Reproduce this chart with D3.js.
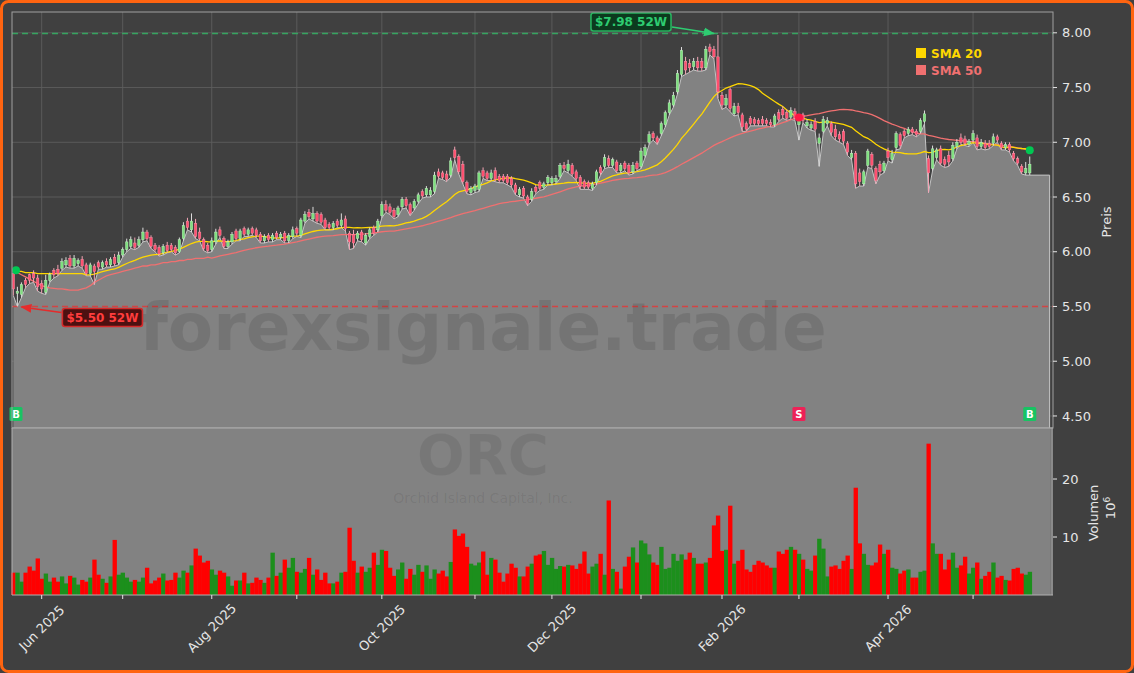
<!DOCTYPE html>
<html><head><meta charset="utf-8">
<script src="https://cdn.jsdelivr.net/npm/d3@7"></script>
<style>html,body{margin:0;padding:0;background:#404040;}svg{display:block;}</style>
</head><body>
<svg id="chart" width="1134" height="673"></svg>
<script>
// ---------------- DATA ----------------
const ticker = "ORC";
const companyName = "Orchid Island Capital, Inc.";
const watermark = "forexsignale.trade";
const startDate = "2025-05-21";
const endDate = "2026-05-21";
const holidays = ["2025-05-26","2025-06-19","2025-07-04","2025-09-01","2025-11-27","2025-12-25","2026-01-01","2026-01-19","2026-02-16","2026-04-03"];

const opens = [5.80,5.62,5.61,5.74,5.79,5.80,5.76,5.71,5.63,5.74,
5.83,5.84,5.85,5.88,5.94,5.87,5.89,5.93,5.88,5.80,
5.87,5.90,5.86,5.91,5.88,5.95,5.90,5.97,6.02,6.05,
6.08,6.06,6.11,6.18,6.13,6.06,6.04,5.99,6.06,6.06,
6.04,6.00,6.12,6.28,6.20,6.26,6.18,6.11,6.06,6.02,
6.09,6.20,6.12,6.05,6.09,6.19,6.12,6.21,6.16,6.21,
6.20,6.16,6.10,6.15,6.11,6.17,6.13,6.17,6.10,6.14,
6.21,6.15,6.28,6.36,6.30,6.35,6.34,6.29,6.25,6.22,
6.28,6.24,6.30,6.17,6.16,6.12,6.18,6.08,6.14,6.22,
6.20,6.33,6.43,6.41,6.38,6.34,6.41,6.48,6.43,6.40,
6.46,6.55,6.52,6.52,6.55,6.73,6.72,6.71,6.70,6.93,
6.87,6.80,6.63,6.54,6.56,6.57,6.74,6.72,6.67,6.74,
6.69,6.69,6.69,6.67,6.61,6.52,6.58,6.50,6.48,6.59,
6.63,6.59,6.63,6.63,6.64,6.69,6.79,6.74,6.79,6.73,
6.68,6.64,6.63,6.58,6.63,6.77,6.78,6.85,6.79,6.82,
6.74,6.81,6.79,6.73,6.81,6.78,6.88,7.00,7.08,7.04,
7.08,7.16,7.27,7.34,7.46,7.62,7.74,7.72,7.69,7.74,
7.74,7.68,7.87,7.85,7.78,7.43,7.34,7.48,7.26,7.33,
7.25,7.17,7.22,7.21,7.20,7.21,7.20,7.18,7.16,7.27,
7.30,7.27,7.23,7.28,7.16,7.25,7.15,7.13,7.19,6.99,
7.10,7.17,7.17,7.12,7.07,7.10,6.99,6.86,6.90,6.72,
6.62,6.79,6.89,6.76,6.80,6.74,6.92,6.84,6.95,7.07,
7.10,7.08,7.12,7.10,7.10,7.19,6.85,6.76,6.86,6.94,
6.84,6.88,6.85,6.96,7.04,7.03,6.98,7.02,7.04,6.96,
6.99,6.99,6.99,7.05,6.99,6.95,6.98,6.90,6.85,6.78,
6.72,6.72];

const highs = [5.84,5.68,5.72,5.76,5.80,5.83,5.79,5.74,5.79,5.81,
5.85,5.88,5.94,5.95,5.97,5.97,5.94,5.96,5.90,5.90,
5.89,5.92,5.92,5.94,5.95,5.98,6.00,6.04,6.12,6.14,
6.13,6.14,6.22,6.20,6.15,6.08,6.06,6.07,6.09,6.08,
6.06,6.13,6.27,6.31,6.35,6.30,6.22,6.13,6.08,6.13,
6.21,6.23,6.14,6.11,6.18,6.21,6.21,6.23,6.22,6.23,
6.22,6.18,6.16,6.17,6.17,6.19,6.18,6.19,6.17,6.23,
6.23,6.31,6.37,6.39,6.41,6.37,6.36,6.31,6.27,6.28,
6.30,6.35,6.33,6.19,6.20,6.19,6.20,6.17,6.22,6.24,
6.30,6.46,6.47,6.44,6.40,6.42,6.50,6.50,6.45,6.48,
6.54,6.57,6.60,6.59,6.73,6.76,6.74,6.74,6.86,6.96,
6.89,6.83,6.65,6.60,6.62,6.74,6.77,6.74,6.75,6.77,
6.71,6.71,6.71,6.69,6.63,6.59,6.60,6.52,6.58,6.61,
6.65,6.64,6.70,6.69,6.70,6.81,6.82,6.84,6.81,6.75,
6.70,6.66,6.65,6.64,6.75,6.79,6.89,6.88,6.86,6.84,
6.81,6.83,6.81,6.82,6.83,6.95,6.98,7.10,7.10,7.06,
7.19,7.29,7.39,7.46,7.66,7.87,7.78,7.76,7.77,7.78,
7.77,7.88,7.90,7.88,7.98,7.46,7.44,7.50,7.36,7.36,
7.27,7.19,7.24,7.23,7.22,7.24,7.22,7.21,7.26,7.30,
7.33,7.30,7.32,7.31,7.23,7.27,7.21,7.19,7.22,7.08,
7.24,7.23,7.19,7.16,7.10,7.12,7.01,6.93,6.92,6.76,
6.75,6.94,6.91,6.78,6.83,6.83,6.95,6.93,7.10,7.09,
7.12,7.14,7.14,7.12,7.22,7.29,6.88,6.97,6.95,6.97,
6.87,6.92,7.00,7.03,7.08,7.06,7.03,7.11,7.07,7.03,
7.02,7.02,7.08,7.07,7.01,7.00,7.00,6.92,6.87,6.80,
6.82,6.87];

const lows = [5.60,5.50,5.58,5.67,5.71,5.72,5.64,5.62,5.61,5.72,
5.76,5.78,5.83,5.86,5.85,5.85,5.87,5.85,5.78,5.78,
5.70,5.84,5.84,5.86,5.86,5.87,5.88,5.95,6.00,6.03,
6.02,6.04,6.09,6.10,6.03,6.00,5.96,5.97,5.99,6.00,
5.97,5.99,6.10,6.20,6.18,6.12,6.10,6.01,5.99,6.00,
6.07,6.13,6.03,6.03,6.07,6.10,6.10,6.14,6.14,6.15,
6.13,6.08,6.08,6.09,6.09,6.11,6.11,6.08,6.08,6.12,
6.14,6.13,6.26,6.30,6.28,6.26,6.25,6.20,6.20,6.20,
6.22,6.22,6.19,6.02,6.03,6.10,6.09,6.06,6.12,6.15,
6.18,6.31,6.36,6.34,6.30,6.32,6.39,6.40,6.33,6.38,
6.44,6.49,6.50,6.50,6.53,6.67,6.66,6.64,6.68,6.84,
6.71,6.62,6.53,6.52,6.54,6.55,6.67,6.65,6.65,6.64,
6.63,6.63,6.61,6.59,6.52,6.50,6.49,6.42,6.46,6.53,
6.56,6.57,6.61,6.61,6.62,6.67,6.74,6.72,6.69,6.65,
6.57,6.57,6.57,6.56,6.61,6.70,6.76,6.77,6.77,6.72,
6.72,6.74,6.70,6.71,6.74,6.76,6.86,6.98,7.02,6.98,
7.06,7.14,7.25,7.32,7.44,7.60,7.62,7.64,7.66,7.65,
7.65,7.66,7.80,7.76,7.40,7.30,7.32,7.28,7.24,7.25,
7.10,7.10,7.15,7.15,7.15,7.15,7.15,7.14,7.14,7.19,
7.22,7.20,7.21,7.20,7.02,7.18,7.13,7.11,7.10,6.78,
7.08,7.15,7.06,7.02,7.00,6.98,6.88,6.84,6.58,6.60,
6.60,6.77,6.76,6.62,6.70,6.72,6.83,6.81,6.93,6.94,
7.04,7.06,7.07,7.05,7.08,7.17,6.54,6.74,6.84,6.79,
6.77,6.78,6.83,6.94,6.98,6.97,6.96,7.00,6.93,6.94,
6.93,6.94,6.97,7.00,6.93,6.93,6.91,6.83,6.79,6.71,
6.70,6.70];

const closes = [5.66,5.64,5.70,5.70,5.74,5.76,5.68,5.66,5.74,5.79,
5.79,5.80,5.91,5.92,5.87,5.94,5.92,5.87,5.80,5.88,
5.82,5.86,5.90,5.88,5.93,5.89,5.97,6.02,6.09,6.11,
6.04,6.11,6.18,6.12,6.05,6.02,5.98,6.05,6.01,6.02,
5.99,6.11,6.24,6.22,6.28,6.14,6.12,6.03,6.01,6.10,
6.18,6.15,6.05,6.09,6.16,6.12,6.19,6.16,6.20,6.17,
6.15,6.10,6.14,6.11,6.15,6.13,6.16,6.10,6.15,6.20,
6.17,6.29,6.34,6.32,6.35,6.28,6.27,6.22,6.22,6.26,
6.24,6.29,6.21,6.09,6.08,6.17,6.11,6.15,6.20,6.17,
6.28,6.43,6.38,6.36,6.32,6.40,6.48,6.42,6.35,6.46,
6.52,6.51,6.58,6.56,6.70,6.69,6.68,6.66,6.83,6.86,
6.73,6.64,6.55,6.58,6.60,6.72,6.69,6.67,6.72,6.66,
6.65,6.65,6.63,6.61,6.54,6.57,6.51,6.44,6.55,6.55,
6.58,6.62,6.68,6.67,6.67,6.79,6.76,6.80,6.71,6.67,
6.60,6.59,6.59,6.62,6.73,6.72,6.86,6.79,6.84,6.74,
6.79,6.76,6.72,6.79,6.76,6.92,6.95,7.07,7.04,7.00,
7.17,7.27,7.36,7.43,7.63,7.84,7.66,7.68,7.74,7.68,
7.68,7.85,7.83,7.78,7.46,7.34,7.40,7.31,7.33,7.27,
7.14,7.12,7.17,7.17,7.17,7.17,7.17,7.16,7.24,7.21,
7.25,7.22,7.29,7.22,7.20,7.20,7.18,7.16,7.12,7.04,
7.21,7.20,7.09,7.05,7.03,7.01,6.91,6.90,6.62,6.64,
6.73,6.92,6.79,6.65,6.73,6.81,6.86,6.90,7.08,6.97,
7.06,7.12,7.09,7.07,7.20,7.26,6.72,6.94,6.93,6.81,
6.80,6.82,6.97,7.00,7.00,6.99,7.01,7.08,6.96,7.00,
6.95,6.96,7.05,7.02,6.95,6.98,6.93,6.85,6.81,6.73,
6.76,6.80];

// volume in millions of shares
const volumes = [3.85,3.85,2.3,3.85,4.9,4.2,6.3,2.8,3.7,2.3,
3.0,2.3,3.2,2.0,3.3,3.0,1.8,2.6,2.3,3.0,
6.1,3.5,2.8,2.1,3.2,9.5,3.5,3.85,3.0,2.3,
2.6,2.3,3.0,4.7,2.0,2.5,3.0,3.7,2.5,2.6,
3.85,3.0,4.2,3.85,5.1,8.0,6.8,5.6,5.9,4.4,
3.5,4.2,3.85,3.2,1.6,2.5,2.5,3.85,2.0,2.1,
3.0,2.6,2.1,3.0,7.3,3.3,3.85,6.1,4.7,6.4,
4.0,3.85,4.5,6.4,3.5,4.4,2.6,3.85,2.0,2.0,
2.3,3.85,4.0,11.6,5.9,3.85,4.9,4.0,4.7,7.3,
5.2,7.8,7.6,4.7,3.3,4.4,5.6,2.8,4.5,3.5,
5.2,4.0,5.1,2.8,4.4,3.7,4.2,3.2,5.7,11.3,
10.2,10.6,8.3,5.4,5.1,5.6,7.5,3.5,6.4,6.1,
3.85,2.3,3.7,5.4,4.7,3.2,3.2,4.9,5.4,6.8,
7.0,7.6,5.2,6.4,4.5,5.0,4.9,5.2,5.1,4.5,
5.4,7.5,3.7,4.9,5.4,7.1,3.5,16.3,4.5,4.0,
1.1,4.9,6.6,8.2,5.6,9.4,8.9,7.0,5.6,5.2,
8.3,4.5,4.7,7.1,5.9,7.0,6.1,7.3,6.4,5.4,
5.4,5.6,6.4,12.0,13.7,7.6,7.8,15.4,5.4,5.9,
7.8,4.4,4.0,5.2,5.9,5.6,5.1,4.7,4.7,7.5,
7.1,7.8,8.3,7.8,7.1,6.1,4.5,4.2,6.8,9.7,
8.0,3.2,4.9,5.1,4.5,5.9,6.8,4.5,18.5,8.9,
7.1,5.2,5.1,5.6,8.7,7.1,7.8,4.7,4.5,3.7,
4.2,4.4,3.0,3.0,4.0,4.2,26.1,8.9,7.1,7.1,
4.4,6.1,7.3,4.7,5.1,6.6,3.7,4.7,5.6,2.8,
3.3,4.0,5.6,3.0,3.3,2.6,2.5,4.5,4.7,3.7,
3.5,4.0];

// moving averages before a full window is available
const sma20Head = [5.83,5.82,5.82,5.81,5.81,5.81,5.80,5.80,5.80,5.80,5.80,5.80,5.80,5.80,5.80,5.80,5.80,5.80,5.79];
const sma50Head = [5.83,5.81,5.79,5.77,5.75,5.73,5.71,5.69,5.68,5.67,5.665,5.66,5.66,5.655,5.65,5.65,5.65,5.66,5.67,5.69,
5.72,5.74,5.76,5.78,5.79,5.80,5.81,5.82,5.83,5.84,5.85,5.86,5.87,5.87,5.88,5.88,5.89,5.90,5.90,5.91,
5.91,5.92,5.92,5.93,5.93,5.94,5.94,5.94,5.95];

const priceTicks = [4.5,5.0,5.5,6.0,6.5,7.0,7.5,8.0];
const volumeTicks = [10,20];
const signals = [{i:0,type:"B"},{i:194,type:"S"},{i:251,type:"B"}];
const legendLabels = ["SMA 20","SMA 50"];

// ---------------- BUILD ----------------
const fmtKey = d3.timeFormat("%Y-%m-%d");
const holidaySet = new Set(holidays);
const dates = [];
for (let d = new Date(startDate+"T12:00:00"); d <= new Date(endDate+"T12:00:00"); d.setDate(d.getDate()+1)) {
  const wd = d.getDay();
  if (wd !== 0 && wd !== 6 && !holidaySet.has(fmtKey(d))) dates.push(new Date(d));
}
const n = closes.length;
const bars = d3.range(n).map(i => ({i, date: dates[i], o: opens[i], h: highs[i], l: lows[i], c: closes[i], v: volumes[i]}));

function sma(win, head) {
  return closes.map((c, i) => i >= win - 1 ? d3.mean(closes.slice(i - win + 1, i + 1)) : head[i]);
}
const sma20 = sma(20, sma20Head);
const sma50 = sma(50, sma50Head);

// ---------------- LAYOUT ----------------
const L = 12, R = 1053, PT = 12, PB = 428, VT = 428, VB = 595;
const svg = d3.select("#chart");
const colors = {
  bg: "#404040", grid: "#5e5e5e", frame: "#a0a0a0", area: "#828282", areaEdge: "#c4c4c4",
  upBody: "#7ee07e", downBody: "#ff4f6f", upWick: "#dcdcdc", downWick: "#f3a3b4",
  volUp: "#1c8f1c", volDown: "#ff0000", sma20: "#ffd700", sma50: "#f07070",
  text: "#e6e6e6", hi: "#2ecc71", lo: "#e03a3a"
};
const FONT = "DejaVu Sans, sans-serif";

const x = d3.scaleLinear().domain([-0.33, 256.74]).range([L, R]);
const y = d3.scaleLinear().domain([4.39, 8.19]).range([PB, PT]);
const yv = d3.scaleLinear().domain([0, 28.8]).range([VB, VT]);
const step = x(1) - x(0);

// background + orange frame
svg.append("rect").attr("x",1.5).attr("y",1.5).attr("width",1131).attr("height",670)
  .attr("rx",7).attr("fill",colors.bg).attr("stroke","#ff6410").attr("stroke-width",3);

// month ticks
const monthTicks = bars.filter((b, i) => i > 0 && b.date.getMonth() !== bars[i-1].date.getMonth());

// price grid
const gPrice = svg.append("g");
gPrice.selectAll(".hg").data(priceTicks).join("line")
  .attr("x1",L).attr("x2",R).attr("y1",d=>y(d)).attr("y2",d=>y(d))
  .attr("stroke",colors.grid).attr("stroke-width",0.9);
gPrice.selectAll(".vg").data(monthTicks).join("line")
  .attr("x1",d=>x(d.i)).attr("x2",d=>x(d.i)).attr("y1",PT).attr("y2",PB)
  .attr("stroke",colors.grid).attr("stroke-width",0.9);

// area below lows (extended flat to the right edge)
const areaPts = bars.map(b => [b.i, b.l]).concat([[n - 1 + 4.9, lows[n-1]]]);
gPrice.append("path").datum(areaPts)
  .attr("d", d3.area().x(d=>x(d[0])).y0(PB).y1(d=>y(d[1])))
  .attr("fill", colors.area);
gPrice.append("path").datum(areaPts)
  .attr("d", d3.line().x(d=>x(d[0])).y(d=>y(d[1])))
  .attr("fill","none").attr("stroke",colors.areaEdge).attr("stroke-width",1);
gPrice.append("line").attr("x1",x(n-1+4.9)).attr("x2",x(n-1+4.9)).attr("y1",y(lows[n-1])).attr("y2",PB)
  .attr("stroke",colors.areaEdge).attr("stroke-width",1);

// watermark
svg.append("text").attr("x",483).attr("y",350).attr("text-anchor","middle")
  .attr("font-family",FONT).attr("font-weight","bold").attr("font-size",66)
  .attr("fill","#000").attr("fill-opacity",0.1).text(watermark);

// 52-week lines
const hiVal = d3.max(highs), loVal = d3.min(lows);
const hiIdx = highs.indexOf(hiVal), loIdx = lows.indexOf(loVal);
gPrice.append("line").attr("x1",L).attr("x2",R).attr("y1",y(hiVal)-1.5).attr("y2",y(hiVal)-1.5)
  .attr("stroke","#36a460").attr("stroke-width",1.5).attr("stroke-dasharray","6,4");
gPrice.append("line").attr("x1",L).attr("x2",R).attr("y1",y(loVal)).attr("y2",y(loVal))
  .attr("stroke","#d24444").attr("stroke-width",1.5).attr("stroke-dasharray","6,4");

// SMA lines
const lineGen = d3.line().x((d,i)=>x(i)).y(d=>y(d));
gPrice.append("path").datum(sma50).attr("d",lineGen).attr("fill","none")
  .attr("stroke",colors.sma50).attr("stroke-width",1.3);
gPrice.append("path").datum(sma20).attr("d",lineGen).attr("fill","none")
  .attr("stroke",colors.sma20).attr("stroke-width",1.3);

// candles
const gC = gPrice.append("g");
gC.selectAll("line.w").data(bars).join("line")
  .attr("x1",d=>x(d.i)).attr("x2",d=>x(d.i)).attr("y1",d=>y(d.h)).attr("y2",d=>y(d.l))
  .attr("stroke",d=>d.c>=d.o?colors.upWick:colors.downWick).attr("stroke-width",1);
const bw = step*0.62;
gC.selectAll("rect.b").data(bars).join("rect")
  .attr("x",d=>x(d.i)-bw/2).attr("width",bw)
  .attr("y",d=>y(Math.max(d.o,d.c)))
  .attr("height",d=>Math.max(1,Math.abs(y(d.o)-y(d.c))))
  .attr("fill",d=>d.c>=d.o?colors.upBody:colors.downBody)
  .attr("stroke",d=>d.c>=d.o?"#c9f5c9":"#ff9fb2").attr("stroke-width",0.4);

// signal dots on the moving average
const sigX = i => Math.max(L + 4, x(i));
gPrice.selectAll("circle.sig").data(signals).join("circle")
  .attr("cx",d=>sigX(d.i)).attr("cy",d=>y(sma50[d.i])).attr("r",4)
  .attr("fill",d=>d.type==="B"?"#00c853":"#ff1744");

// 52W annotations
const defs = svg.append("defs");
[["arrG",colors.hi],["arrR","#e52b2b"]].forEach(([id,col])=>{
  defs.append("marker").attr("id",id).attr("viewBox","0 0 10 10").attr("refX",9).attr("refY",5)
    .attr("markerWidth",7).attr("markerHeight",7).attr("orient","auto")
    .append("path").attr("d","M0,1 L10,5 L0,9 z").attr("fill",col);
});
function labelBox(txt, bx, by, fill, stroke, tcol) {
  const g = svg.append("g");
  const t = g.append("text").attr("x",bx+4).attr("y",by+13.5).attr("font-family",FONT)
    .attr("font-weight","bold").attr("font-size",12).attr("fill",tcol).text(txt);
  const w = t.node().getComputedTextLength() + 8;
  g.insert("rect","text").attr("x",bx).attr("y",by).attr("width",w).attr("height",18).attr("rx",2.5)
    .attr("fill",fill).attr("stroke",stroke).attr("stroke-width",1.6);
  return w;
}
const hx = x(hiIdx), hy = y(hiVal);
const hiTxt = "$" + hiVal.toFixed(2) + " 52W";
const wHi = labelBox(hiTxt, hx - 127, hy - 22, "#0c3a1e", "#27b35f", colors.hi);
svg.append("line").attr("x1",hx-127+wHi+1).attr("y1",hy-8).attr("x2",hx-4).attr("y2",hy-1.5)
  .attr("stroke",colors.hi).attr("stroke-width",1.6).attr("marker-end","url(#arrG)");
const lx = x(loIdx), ly = y(loVal);
const loTxt = "$" + loVal.toFixed(2) + " 52W";
labelBox(loTxt, lx + 45, ly + 2, "#4d1111", "#d42a2a", "#ff3d3d");
svg.append("line").attr("x1",lx+44).attr("y1",ly+6).attr("x2",lx+4).attr("y2",ly+0.5)
  .attr("stroke","#e52b2b").attr("stroke-width",1.6).attr("marker-end","url(#arrR)");

// legend
const lg = svg.append("g");
[colors.sma20, colors.sma50].forEach((col, k) => {
  lg.append("rect").attr("x",916).attr("y",48 + k*17).attr("width",10).attr("height",10).attr("fill",col);
  lg.append("text").attr("x",931).attr("y",57.5 + k*17).attr("font-family",FONT).attr("font-weight","bold")
    .attr("font-size",12).attr("fill",col).text(legendLabels[k]);
});

// B / S markers
const mg = svg.append("g");
signals.forEach(s => {
  const cx = sigX(s.i);
  mg.append("rect").attr("x",cx-6.5).attr("y",PB-21).attr("width",13).attr("height",14).attr("rx",1.5)
    .attr("fill", s.type==="B" ? "#18c463" : "#ee2157");
  mg.append("text").attr("x",cx).attr("y",PB-10).attr("text-anchor","middle").attr("font-family",FONT)
    .attr("font-weight","bold").attr("font-size",10).attr("fill","#fff").text(s.type);
});

// price frame
svg.append("rect").attr("x",L).attr("y",PT).attr("width",R-L).attr("height",PB-PT)
  .attr("fill","none").attr("stroke",colors.frame).attr("stroke-width",1);

// ---------------- VOLUME PANEL ----------------
const gV = svg.append("g");
gV.append("rect").attr("x",L).attr("y",VT).attr("width",x(n-1+5.2)-L).attr("height",VB-VT).attr("fill",colors.area);
gV.append("rect").attr("x",x(n-1+5.2)).attr("y",VT).attr("width",R-x(n-1+5.2)).attr("height",VB-VT).attr("fill","#8a8a8a");
gV.append("text").attr("x",483).attr("y",474).attr("text-anchor","middle").attr("font-family",FONT)
  .attr("font-weight","bold").attr("font-size",56).attr("fill","#000").attr("fill-opacity",0.08).text(ticker);
gV.append("text").attr("x",483).attr("y",503).attr("text-anchor","middle").attr("font-family",FONT)
  .attr("font-size",14).attr("fill","#000").attr("fill-opacity",0.08).text(companyName);
gV.selectAll("rect.v").data(bars).join("rect")
  .attr("x",d=>x(d.i)-step/2).attr("width",step+0.3)
  .attr("y",d=>yv(d.v)).attr("height",d=>VB-yv(d.v))
  .attr("fill",d=>d.c>=d.o?colors.volUp:colors.volDown);
gV.append("line").attr("x1",L).attr("x2",R).attr("y1",VT).attr("y2",VT).attr("stroke","#b0b0b0").attr("stroke-width",1.2);
gV.append("line").attr("x1",L).attr("x2",R).attr("y1",VB).attr("y2",VB).attr("stroke","#b0b0b0").attr("stroke-width",1);
gV.append("line").attr("x1",L).attr("x2",L).attr("y1",VT).attr("y2",VB).attr("stroke","#b0b0b0").attr("stroke-width",1);

// ---------------- AXES ----------------
const ax = svg.append("g").attr("font-family",FONT).attr("fill",colors.text);
priceTicks.forEach(t => {
  ax.append("line").attr("x1",R).attr("x2",R+4).attr("y1",y(t)).attr("y2",y(t)).attr("stroke",colors.text);
  ax.append("text").attr("x",R+9).attr("y",y(t)).attr("dy","0.36em").attr("font-size",13).text(t.toFixed(2));
});
volumeTicks.forEach(t => {
  ax.append("line").attr("x1",R).attr("x2",R+4).attr("y1",yv(t)).attr("y2",yv(t)).attr("stroke",colors.text);
  ax.append("text").attr("x",R+9).attr("y",yv(t)).attr("dy","0.36em").attr("font-size",13).text(t);
});
ax.append("text").attr("transform","translate(1111,222) rotate(-90)").attr("text-anchor","middle")
  .attr("font-size",13).text("Preis");
ax.append("text").attr("transform","translate(1098,513) rotate(-90)").attr("text-anchor","middle")
  .attr("font-size",13).text("Volumen");
const e6 = ax.append("text").attr("transform","translate(1115,508) rotate(-90)").attr("text-anchor","middle").attr("font-size",13);
e6.append("tspan").text("10");
e6.append("tspan").attr("dy",-5).attr("font-size",9).text("6");

const fmtMonth = d3.timeFormat("%b %Y");
monthTicks.forEach(b => {
  const tx = x(b.i);
  ax.append("line").attr("x1",tx).attr("x2",tx).attr("y1",VB).attr("y2",VB+4).attr("stroke",colors.text);
  if (b.date.getMonth() % 2 === 1) {
    ax.append("text").attr("transform",`translate(${tx},628) rotate(-45)`).attr("text-anchor","middle")
      .attr("dy","0.35em").attr("font-size",13).text(fmtMonth(b.date));
  }
});
</script>
</body></html>
